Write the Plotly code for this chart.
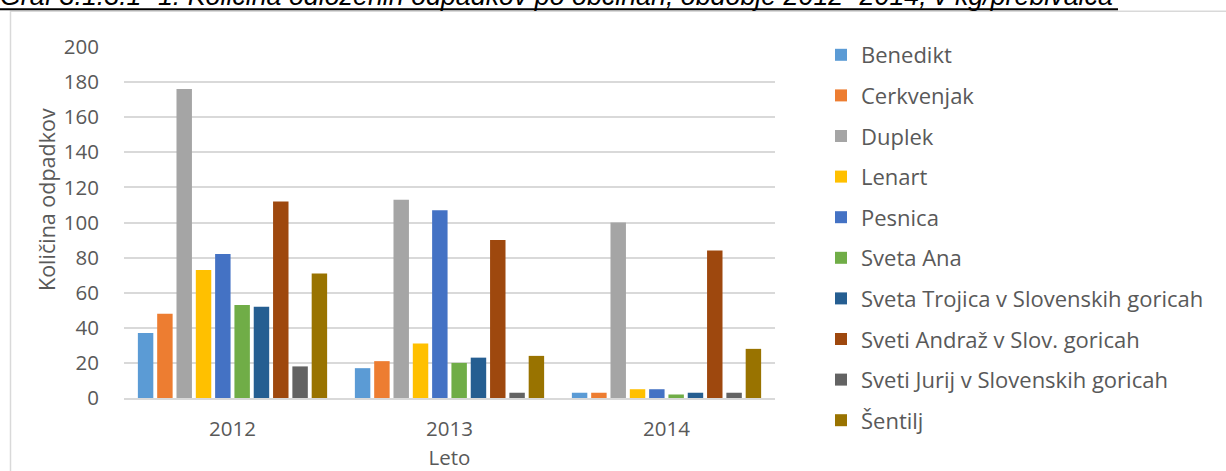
import plotly.graph_objects as go

years = ["2012", "2013", "2014"]
municipalities = ["Benedikt", "Cerkvenjak", "Duplek", "Lenart", "Pesnica", "Sveta Ana",
                  "Sveta Trojica v Slovenskih goricah", "Sveti Andraž v Slov. goricah",
                  "Sveti Jurij v Slovenskih goricah", "Šentilj"]
values = {
    "Benedikt": [37, 17, 3],
    "Cerkvenjak": [48, 21, 3],
    "Duplek": [176, 113, 100],
    "Lenart": [73, 31, 5],
    "Pesnica": [82, 107, 5],
    "Sveta Ana": [53, 20, 2],
    "Sveta Trojica v Slovenskih goricah": [52, 23, 3],
    "Sveti Andraž v Slov. goricah": [112, 90, 84],
    "Sveti Jurij v Slovenskih goricah": [18, 3, 3],
    "Šentilj": [71, 24, 28],
}
colors = ["#5B9BD5", "#ED7D31", "#A5A5A5", "#FFC000", "#4472C4", "#70AD47",
          "#255E91", "#9E480E", "#636363", "#997300"]
y_ticks = [0, 20, 40, 60, 80, 100, 120, 140, 160, 180, 200]
title_text = "Graf 3.1.3.1- 1: Količina odloženih odpadkov po občinah, obdobje 2012- 2014, v kg/prebivalca"

W, H = 1226, 471
L, R = 124, 775
T, B = 46.7, 398.3

def px(x):
    return (x - L) / (R - L)

def py(y):
    return (B - y) / (B - T)

txt = "#595959"
fnt = "Open Sans"
fs = 20.5

fig = go.Figure()
for i, m in enumerate(municipalities):
    fig.add_trace(go.Bar(x=years, y=values[m], name=m, legendgroup=m,
                         marker=dict(color=colors[i], line=dict(width=0))))

fig.update_layout(
    width=W, height=H,
    margin=dict(l=L, r=W - R, t=T, b=H - B, pad=0, autoexpand=False),
    paper_bgcolor="white", plot_bgcolor="white",
    barmode="group", bargap=0.11, bargroupgap=0.2,
    font=dict(family=fnt, size=fs, color=txt),
    showlegend=True,
    legend=dict(xref="container", yref="container",
                x=821 / W, xanchor="left", y=1 - 34 / H, yanchor="top",
                maxheight=460,
                tracegroupgap=9, font=dict(family=fnt, size=22, color=txt),
                bgcolor="rgba(0,0,0,0)", itemwidth=30),
    xaxis=dict(showgrid=False, showline=True, linecolor="#D9D9D9", linewidth=1.5,
               ticks="", ticklabelstandoff=12, tickfont=dict(size=fs, color=txt),
               title=dict(text="Leto", font=dict(size=fs, color=txt), standoff=9)),
    yaxis=dict(range=[0, 200], tickvals=y_ticks, showgrid=True, gridcolor="#D9D9D9",
               gridwidth=1.5, zeroline=False, showline=False, ticks="",
               ticklabelstandoff=24, tickfont=dict(size=fs, color=txt)),
)

fig.add_annotation(text="Količina odpadkov", textangle=-90, xref="paper", yref="paper",
                   x=px(46), y=py(200), xanchor="center", yanchor="middle",
                   showarrow=False, font=dict(family=fnt, size=21.5, color=txt))

fig.add_annotation(text=title_text, xref="paper", yref="paper",
                   x=px(-2), y=py(13), xanchor="left", yanchor="bottom",
                   showarrow=False,
                   font=dict(family="Liberation Sans", size=26.8, color="black", style="italic"))

# chart border
fig.add_shape(type="rect", xref="paper", yref="paper",
              x0=px(10.5), x1=px(1240), y0=py(11), y1=py(490),
              line=dict(color="#D9D9D9", width=1.5), fillcolor="rgba(0,0,0,0)")
# title underline
fig.add_shape(type="line", xref="paper", yref="paper",
              x0=px(0), x1=px(1118), y0=py(9), y1=py(9),
              line=dict(color="black", width=2))

fig.write_html("out.html", config={"displayModeBar": False},
               post_script="document.body.style.margin='0';")
